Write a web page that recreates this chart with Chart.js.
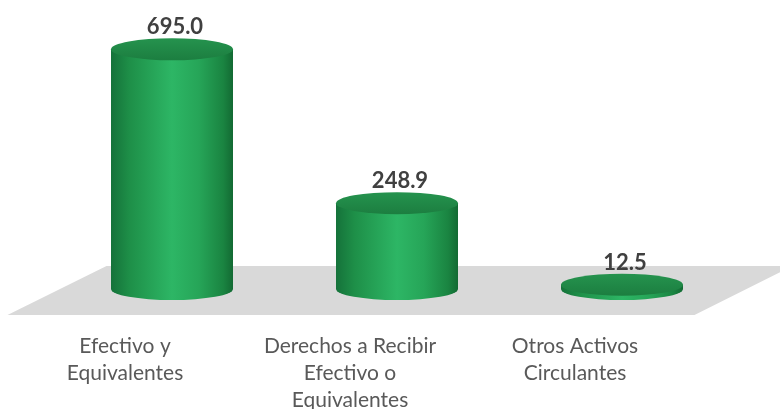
<!DOCTYPE html>
<html>
<head>
<meta charset="utf-8">
<script src="https://cdn.jsdelivr.net/npm/chart.js@4.4.1/dist/chart.umd.min.js"></script>
<style>
  body { margin: 0; background: #ffffff; }
  #chart { display: block; }
</style>
</head>
<body>
<canvas id="chart" width="780" height="409"></canvas>
<script>
// datos
var categories = [
    ['Efectivo y', 'Equivalentes'],
    ['Derechos a Recibir', 'Efectivo o', 'Equivalentes'],
    ['Otros Activos', 'Circulantes']
];
var values = [695.0, 248.9, 12.5];
var valueLabels = ['695.0', '248.9', '12.5'];

// piso gris y cilindros dibujados sobre las barras
var cylinders = {
    id: 'cylinders',
    beforeDatasetsDraw: function(chart) {
        var ctx = chart.ctx;
        var a = chart.chartArea;
        var base = a.bottom;
        ctx.save();
        ctx.fillStyle = '#d9d9d9';
        ctx.beginPath();
        ctx.moveTo(a.left - 5, base + 26);
        ctx.lineTo(a.left + 94, base - 23);
        ctx.lineTo(a.right + 105, base - 23);
        ctx.lineTo(a.right + 7, base + 26);
        ctx.closePath();
        ctx.fill();
        ctx.restore();
    },
    afterDatasetsDraw: function(chart) {
        var ctx = chart.ctx;
        var meta = chart.getDatasetMeta(0);
        var rx = 61, ry = 11, shift = 47;
        meta.data.forEach(function(bar, i) {
            var cx = bar.x + shift;
            var top = bar.y;
            var bottom = bar.base;
            ctx.save();
            // cuerpo
            var g = ctx.createLinearGradient(cx - rx, 0, cx + rx, 0);
            g.addColorStop(0, '#15723a');
            g.addColorStop(0.15, '#1e8f48');
            g.addColorStop(0.5, '#2db665');
            g.addColorStop(0.72, '#26a558');
            g.addColorStop(0.92, '#1a8441');
            g.addColorStop(1, '#136a33');
            ctx.fillStyle = g;
            ctx.beginPath();
            ctx.moveTo(cx - rx, top);
            ctx.lineTo(cx - rx, bottom);
            ctx.ellipse(cx, bottom, rx, ry, 0, Math.PI, 0, true);
            ctx.lineTo(cx + rx, top);
            ctx.closePath();
            ctx.fill();
            // tapa
            var gc = ctx.createLinearGradient(0, top - ry, 0, top + ry);
            gc.addColorStop(0, '#25934e');
            gc.addColorStop(1, '#1c7e40');
            ctx.fillStyle = gc;
            ctx.beginPath();
            ctx.ellipse(cx, top, rx, ry, 0, 0, Math.PI * 2);
            ctx.fill();
            // etiqueta de valor
            ctx.fillStyle = '#404040';
            ctx.font = 'bold 22px Lato';
            ctx.textAlign = 'center';
            ctx.textBaseline = 'middle';
            ctx.fillText(valueLabels[i], cx + 3, top - 22);
            ctx.restore();
        });
    }
};

var ctx = document.getElementById('chart').getContext('2d');
var myChart = new Chart(ctx, {
    type: 'bar',
    data: {
        labels: categories,
        datasets: [{
            data: values,
            backgroundColor: 'rgba(0,0,0,0)',
            borderWidth: 0
        }]
    },
    options: {
        responsive: false,
        animation: false,
        layout: {
            padding: { top: 13, left: 12.5, right: 92.5, bottom: 0 }
        },
        plugins: {
            legend: { display: false },
            tooltip: { enabled: false }
        },
        scales: {
            x: {
                grid: { display: false },
                border: { display: false },
                afterFit: function(scale) { scale.height = 120; },
                ticks: {
                    color: '#595959',
                    font: { family: 'Lato', size: 21, lineHeight: 1.29 },
                    padding: 36,
                    maxRotation: 0,
                    autoSkip: false
                }
            },
            y: {
                display: false,
                min: 0,
                max: 800
            }
        }
    },
    plugins: [cylinders]
});
</script>
</body>
</html>
